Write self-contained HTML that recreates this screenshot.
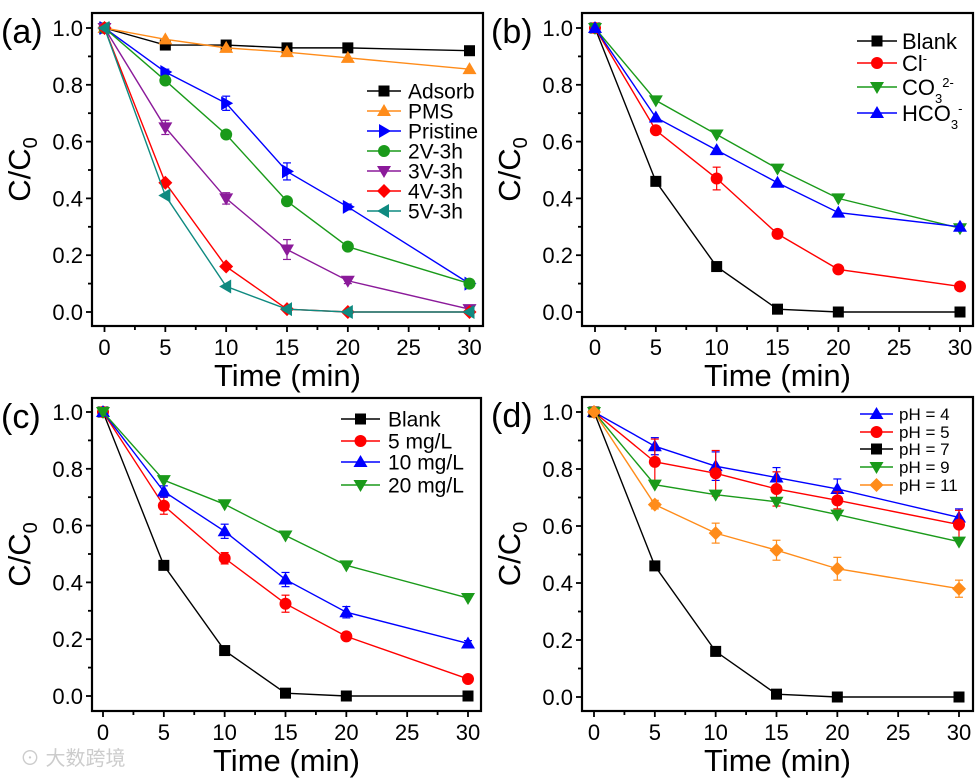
<!DOCTYPE html>
<html><head><meta charset="utf-8">
<style>
html,body{margin:0;padding:0;background:#fff;}
svg{display:block;font-family:"Liberation Sans",Arial,sans-serif;}
</style></head>
<body>
<svg id="fig" width="976" height="780" viewBox="0 0 976 780">
<text x="20" y="765" font-size="20" fill="#ccc" font-family="'Liberation Sans','Noto Sans CJK SC',sans-serif">⊙ 大数跨境</text>
</svg>
<script>
const xCats=[0,5,10,15,20,30];
const xTicks=[0,5,10,15,20,25,30];
const yTicks=[0.0,0.2,0.4,0.6,0.8,1.0];
const yTickLabels=["0.0","0.2","0.4","0.6","0.8","1.0"];

const aAdsorb=[1,0.94,0.94,0.93,0.93,0.92];
const aPMS=[1,0.96,0.93,0.915,0.895,0.855];
const aPristine=[1,0.845,0.735,0.495,0.37,0.1];
const a2V=[1,0.815,0.625,0.39,0.23,0.1];
const a3V=[1,0.65,0.4,0.22,0.11,0.01];
const a4V=[1,0.455,0.16,0.01,0,0];
const a5V=[1,0.41,0.09,0.01,0,0];
const aPristineErr=[0,0.01,0.025,0.03,0.01,0.01];
const a3VErr=[0,0.025,0.02,0.035,0.01,0];

const bBlank=[1,0.46,0.16,0.01,0,0];
const bCl=[1,0.64,0.47,0.275,0.15,0.09];
const bCO3=[1,0.745,0.625,0.505,0.4,0.295];
const bHCO3=[1,0.685,0.57,0.455,0.35,0.3];
const bClErr=[0,0.01,0.04,0.015,0.01,0.01];

const cBlank=[1,0.46,0.16,0.01,0,0];
const c5=[1,0.67,0.485,0.325,0.21,0.06];
const c10=[1,0.72,0.58,0.41,0.295,0.185];
const c20=[1,0.76,0.675,0.565,0.46,0.345];
const c5Err=[0,0.03,0.02,0.03,0.01,0.01];
const c10Err=[0,0.02,0.025,0.025,0.02,0.01];

const dpH4=[1,0.88,0.81,0.77,0.73,0.63];
const dpH5=[1,0.825,0.785,0.73,0.69,0.605];
const dpH7=[1,0.46,0.16,0.01,0,0];
const dpH9=[1,0.745,0.71,0.685,0.64,0.545];
const dpH11=[1,0.675,0.575,0.515,0.45,0.38];
const dpH4Err=[0,0.03,0.05,0.035,0.035,0.03];
const dpH5Err=[0,0.08,0.08,0.06,0.03,0.05];
const dpH11Err=[0,0.015,0.035,0.035,0.04,0.03];

const NS="http://www.w3.org/2000/svg";
const svg=document.getElementById('fig');
function mk(tag,attrs,parent){const e=document.createElementNS(NS,tag);for(const k in attrs)e.setAttribute(k,attrs[k]);(parent||svg).appendChild(e);return e;}

function marker(g,shape,cx,cy,color,s){
  s=s||6;let e;
  if(shape==='square')e=mk('rect',{x:cx-s+0.5,y:cy-s+0.5,width:2*s-1,height:2*s-1,fill:color},g);
  else if(shape==='circle')e=mk('circle',{cx:cx,cy:cy,r:s,fill:color},g);
  else if(shape==='up')e=mk('polygon',{points:`${cx},${cy-s-1} ${cx+s+1},${cy+s-1} ${cx-s-1},${cy+s-1}`,fill:color},g);
  else if(shape==='down')e=mk('polygon',{points:`${cx},${cy+s+1} ${cx+s+1},${cy-s+1} ${cx-s-1},${cy-s+1}`,fill:color},g);
  else if(shape==='right')e=mk('polygon',{points:`${cx+s+1},${cy} ${cx-s+1},${cy-s-1} ${cx-s+1},${cy+s+1}`,fill:color},g);
  else if(shape==='left')e=mk('polygon',{points:`${cx-s-1},${cy} ${cx+s-1},${cy-s-1} ${cx+s-1},${cy+s+1}`,fill:color},g);
  else if(shape==='diamond')e=mk('polygon',{points:`${cx},${cy-s-1} ${cx+s+1},${cy} ${cx},${cy+s+1} ${cx-s-1},${cy}`,fill:color},g);
  return e;
}

function panel(p){
  const g=mk('g',{});
  
  
  const xs=v=>p.x0+(p.x30-p.x0)*v/30;
  const ys=v=>p.y0+(p.y1-p.y0)*v;
  const ax=mk('g',{stroke:'#000','stroke-width':1.8},g);
  
  
  for(let i=0;i<=12;i++){const v=i*2.5;const x=xs(v);const len=(i%2===0)?6:4;mk('line',{x1:x,y1:p.B,x2:x,y2:p.B+len},ax);}
  for(let i=0;i<=10;i++){const v=i*0.1;const y=ys(v);const len=(i%2===0)?6:4;mk('line',{x1:p.L,y1:y,x2:p.L-len,y2:y},ax);}
  xTicks.forEach(v=>{const t=mk('text',{x:xs(v),y:p.B+29,'font-size':22,'text-anchor':'middle',fill:'#000'},g);t.textContent=String(v);
    });
  yTicks.forEach((v,i)=>{const t=mk('text',{x:p.L-9,y:ys(v)+8,'font-size':22,'text-anchor':'end',fill:'#000'},g);t.textContent=yTickLabels[i];
    });
  const xt=mk('text',{x:(p.L+p.R)/2,y:p.B+60,'font-size':31,'text-anchor':'middle',fill:'#000'},g);xt.textContent='Time (min)';
  
  const yt=mk('text',{transform:`translate(${p.L-62},${(p.T+p.B)/2}) rotate(-90)`,'font-size':31,'text-anchor':'middle',fill:'#000'},g);
  yt.innerHTML='C/C<tspan font-size="20" dy="7">0</tspan>';
  
  const lt=mk('text',{x:p.L-91,y:p.T+30,'font-size':34,fill:'#000'},g);lt.textContent='('+p.id+')';
  
  p.series.forEach(s=>{
    const sg=mk('g',{},g);
    
    
    mk('polyline',{points:xCats.map((x,i)=>xs(x)+','+ys(s.data[i])).join(' '),fill:'none',stroke:s.color,'stroke-width':1.4},sg);
    if(s.err){s.err.forEach((e,i)=>{if(e>0){const x=xs(xCats[i]);const a=ys(s.data[i]+e),b=ys(s.data[i]-e);
      mk('line',{x1:x,y1:a,x2:x,y2:b,stroke:s.color,'stroke-width':1.2},sg);
      mk('line',{x1:x-4,y1:a,x2:x+4,y2:a,stroke:s.color,'stroke-width':1.2},sg);
      mk('line',{x1:x-4,y1:b,x2:x+4,y2:b,stroke:s.color,'stroke-width':1.2},sg);}});}
    xCats.forEach((x,i)=>{const m=marker(sg,s.shape,xs(x),ys(s.data[i]),s.color);
      });
  });
  mk('rect',{x:p.L,y:p.T,width:p.R-p.L,height:p.B-p.T,fill:'none',stroke:'#000','stroke-width':2.2},g);
  const lg=mk('g',{},g);
  
  
  p.series.forEach((s,i)=>{
    const y=p.leg.rows[i];
    const eg=mk('g',{},lg);
    
    
    mk('line',{x1:p.leg.x1,y1:y,x2:p.leg.x2,y2:y,stroke:s.color,'stroke-width':1.4},eg);
    marker(eg,s.shape,(p.leg.x1+p.leg.x2)/2,y,s.color);
    const t=mk('text',{x:p.leg.tx,y:y+p.leg.fs*0.36,'font-size':p.leg.fs,fill:'#000'},eg);
    t.innerHTML=s.label||s.name;
  });
}

panel({id:'a',L:92,R:483,T:13,B:326,x0:104.5,x30:469.5,y1:28,y0:312,
 leg:{x1:367,x2:401,tx:408,fs:21,rows:[91,111,131,151,171,191,211]},
 series:[
  {name:'Adsorb',data:aAdsorb,color:'#000000',shape:'square'},
  {name:'PMS',data:aPMS,color:'#ff8c1a',shape:'up'},
  {name:'Pristine',data:aPristine,color:'#0000ff',shape:'right',err:aPristineErr},
  {name:'2V-3h',data:a2V,color:'#1a9a1a',shape:'circle'},
  {name:'3V-3h',data:a3V,color:'#8b1a9a',shape:'down',err:a3VErr},
  {name:'4V-3h',data:a4V,color:'#ff0000',shape:'diamond'},
  {name:'5V-3h',data:a5V,color:'#0f8a80',shape:'left'}]});

panel({id:'b',L:582,R:973,T:13,B:326,x0:595,x30:960,y1:28,y0:312,
 leg:{x1:857,x2:897,tx:902,fs:22,rows:[41,63,87,113]},
 series:[
  {name:'Blank',data:bBlank,color:'#000000',shape:'square'},
  {name:'Cl',label:'Cl<tspan font-size="13" dy="-8">-</tspan>',data:bCl,color:'#ff0000',shape:'circle',err:bClErr},
  {name:'CO3',label:'CO<tspan font-size="13" dy="8">3</tspan><tspan font-size="13" dy="-16">2-</tspan>',data:bCO3,color:'#1a9a1a',shape:'down'},
  {name:'HCO3',label:'HCO<tspan font-size="13" dy="8">3</tspan><tspan font-size="13" dy="-16">-</tspan>',data:bHCO3,color:'#0000ff',shape:'up'}]});

panel({id:'c',L:92,R:481,T:398,B:711,x0:103,x30:468,y1:412,y0:696,
 leg:{x1:341,x2:380,tx:388,fs:21,rows:[419,441,462,485]},
 series:[
  {name:'Blank',data:cBlank,color:'#000000',shape:'square'},
  {name:'5 mg/L',data:c5,color:'#ff0000',shape:'circle',err:c5Err},
  {name:'10 mg/L',data:c10,color:'#0000ff',shape:'up',err:c10Err},
  {name:'20 mg/L',data:c20,color:'#1a9a1a',shape:'down'}]});

panel({id:'d',L:582,R:973,T:397,B:711,x0:594,x30:959,y1:412,y0:697,
 leg:{x1:860,x2:893,tx:899,fs:17,rows:[414,432,449,467,485]},
 series:[
  {name:'pH = 4',data:dpH4,color:'#0000ff',shape:'up',err:dpH4Err},
  {name:'pH = 5',data:dpH5,color:'#ff0000',shape:'circle',err:dpH5Err},
  {name:'pH = 7',data:dpH7,color:'#000000',shape:'square'},
  {name:'pH = 9',data:dpH9,color:'#1a9a1a',shape:'down'},
  {name:'pH = 11',data:dpH11,color:'#ff8c1a',shape:'diamond',err:dpH11Err}]});
</script>
</body></html>
